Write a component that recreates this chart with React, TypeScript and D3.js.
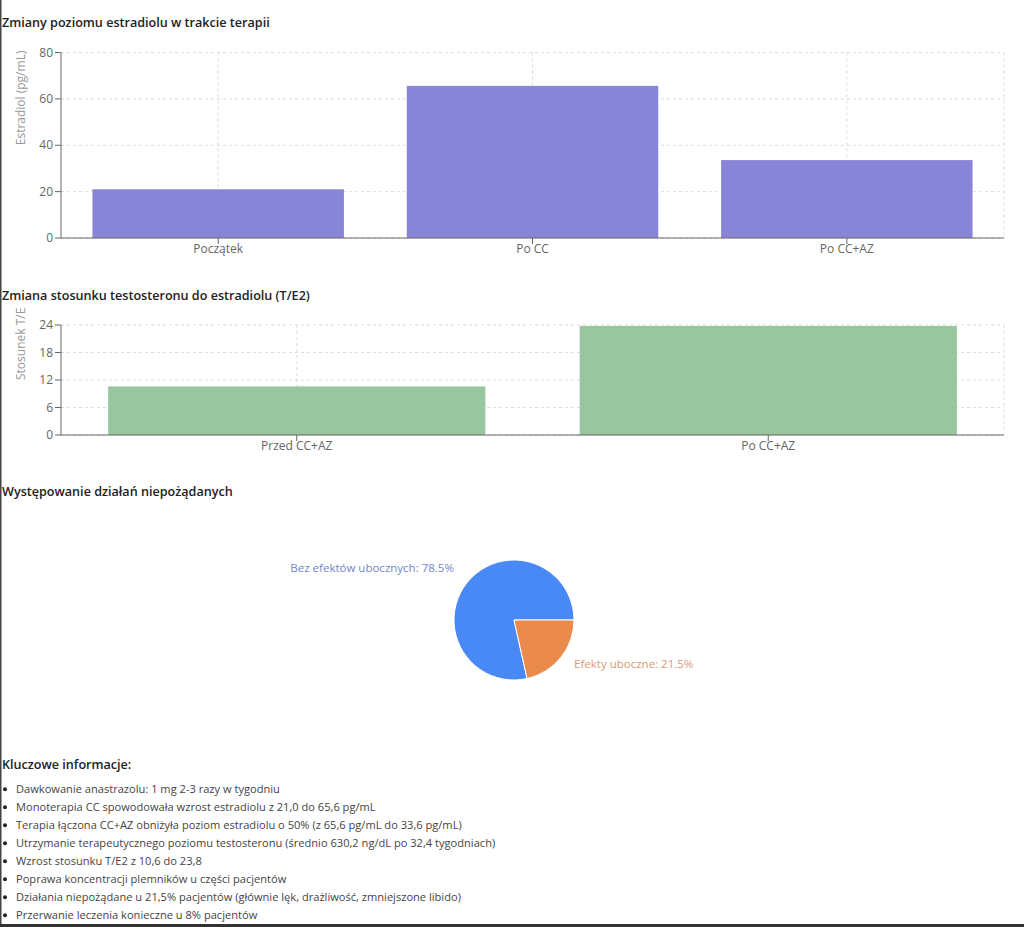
import React from "react";
import * as d3 from "d3";

const estradiolCategories = ["Początek", "Po CC", "Po CC+AZ"];
const estradiolValues = [21.0, 65.6, 33.6];
const estradiolTicks = [0, 20, 40, 60, 80];

const ratioCategories = ["Przed CC+AZ", "Po CC+AZ"];
const ratioValues = [10.6, 23.8];
const ratioTicks = [0, 6, 12, 18, 24];

const sideEffectLabels = ["Bez efektów ubocznych", "Efekty uboczne"];
const sideEffectValues = [78.5, 21.5];
const sideEffectColors = ["#4889f5", "#ea8a4b"];
const sideEffectLabelColors = ["#7086cc", "#dd9a72"];

const keyInfo = [
  "Dawkowanie anastrazolu: 1 mg 2-3 razy w tygodniu",
  "Monoterapia CC spowodowała wzrost estradiolu z 21,0 do 65,6 pg/mL",
  "Terapia łączona CC+AZ obniżyła poziom estradiolu o 50% (z 65,6 pg/mL do 33,6 pg/mL)",
  "Utrzymanie terapeutycznego poziomu testosteronu (średnio 630,2 ng/dL po 32,4 tygodniach)",
  "Wzrost stosunku T/E2 z 10,6 do 23,8",
  "Poprawa koncentracji plemników u części pacjentów",
  "Działania niepożądane u 21,5% pacjentów (głównie lęk, drażliwość, zmniejszone libido)",
  "Przerwanie leczenia konieczne u 8% pacjentów",
];

const FONT = "'Open Sans', 'Noto Sans', sans-serif";

type BarProps = {
  categories: string[];
  values: number[];
  ticks: number[];
  top: number;
  bottom: number;
  left: number;
  right: number;
  color: string;
  yLabel: string;
};

function BarChart({ categories, values, ticks, top, bottom, left, right, color, yLabel }: BarProps) {
  const x = d3.scaleBand<string>().domain(categories).range([left, right]).paddingInner(0.2).paddingOuter(0.1);
  const y = d3.scaleLinear().domain([0, ticks[ticks.length - 1]]).range([bottom, top]);
  const centers = categories.map((c) => (x(c) as number) + x.bandwidth() / 2);
  return (
    <g>
      {ticks.map((t) => (
        <line key={"hg" + t} x1={left} x2={right} y1={y(t)} y2={y(t)} stroke="#dcdcdc" strokeDasharray="3 3" />
      ))}
      {centers.map((cx, i) => (
        <line key={"vg" + i} x1={cx} x2={cx} y1={top} y2={bottom} stroke="#dcdcdc" strokeDasharray="3 3" />
      ))}
      <line x1={right} x2={right} y1={top} y2={bottom} stroke="#dcdcdc" strokeDasharray="3 3" />
      {categories.map((c, i) => (
        <rect key={c} x={x(c)} y={y(values[i])} width={x.bandwidth()} height={bottom - y(values[i])} fill={color} />
      ))}
      <line x1={left} x2={left} y1={top} y2={bottom} stroke="#666" />
      <line x1={left} x2={right} y1={bottom} y2={bottom} stroke="#666" />
      {ticks.map((t) => (
        <g key={"yt" + t}>
          <line x1={left - 6} x2={left} y1={y(t)} y2={y(t)} stroke="#666" />
          <text x={left - 8} y={y(t)} dy="0.35em" textAnchor="end" fontSize={12} fill="#666" fontFamily={FONT}>
            {t}
          </text>
        </g>
      ))}
      {categories.map((c, i) => (
        <g key={"xt" + c}>
          <line x1={centers[i]} x2={centers[i]} y1={bottom} y2={bottom + 6} stroke="#666" />
          <text x={centers[i]} y={bottom + 15} textAnchor="middle" fontSize={12} fill="#666" fontFamily={FONT}>
            {c}
          </text>
        </g>
      ))}
      <text
        transform={`translate(${left - 40},${(top + bottom) / 2}) rotate(-90)`}
        textAnchor="start"
        dy="0.35em"
        fontSize={12}
        fill="#999"
        fontFamily={FONT}
      >
        {yLabel}
      </text>
    </g>
  );
}

function Pie() {
  const cx = 514;
  const cy = 620;
  const r = 60;
  const pie = d3
    .pie<number>()
    .sort(null)
    .startAngle(Math.PI / 2)
    .endAngle(Math.PI / 2 - 2 * Math.PI);
  const arcs = pie(sideEffectValues);
  const arc = d3.arc<d3.PieArcDatum<number>>().innerRadius(0).outerRadius(r);
  return (
    <g transform={`translate(${cx},${cy})`}>
      {arcs.map((a, i) => (
        <path key={i} d={arc(a) as string} fill={sideEffectColors[i]} stroke="#fff" strokeWidth={1} />
      ))}
      {arcs.map((a, i) => {
        const mid = (a.startAngle + a.endAngle) / 2;
        const lr = 77;
        const lx = lr * Math.sin(mid);
        const ly = -lr * Math.cos(mid);
        return (
          <text
            key={"l" + i}
            x={lx}
            y={ly}
            textAnchor={lx > 0 ? "start" : "end"}
            fontSize={11.5}
            fill={sideEffectLabelColors[i]}
            fontFamily={FONT}
          >
            {`${sideEffectLabels[i]}: ${sideEffectValues[i]}%`}
          </text>
        );
      })}
    </g>
  );
}

export default function App() {
  return (
    <svg
      width={1024}
      height={927}
      style={{ position: "absolute", left: 0, top: 0, background: "#fff" }}
      fontFamily={FONT}
    >
      <rect x={0} y={0} width={1024} height={927} fill="#fff" />
      <text x={2} y={27} fontSize={12.6} fontWeight={600} fill="#222">
        Zmiany poziomu estradiolu w trakcie terapii
      </text>
      <BarChart
        categories={estradiolCategories}
        values={estradiolValues}
        ticks={estradiolTicks}
        top={52.5}
        bottom={238}
        left={61}
        right={1004}
        color="#8884d8"
        yLabel="Estradiol (pg/mL)"
      />
      <text x={2} y={300} fontSize={12.6} fontWeight={600} fill="#222">
        Zmiana stosunku testosteronu do estradiolu (T/E2)
      </text>
      <BarChart
        categories={ratioCategories}
        values={ratioValues}
        ticks={ratioTicks}
        top={325}
        bottom={435}
        left={61}
        right={1004}
        color="#98c69f"
        yLabel="Stosunek T/E"
      />
      <text x={2} y={496} fontSize={12.6} fontWeight={600} fill="#222">
        Występowanie działań niepożądanych
      </text>
      <Pie />
      <text x={2} y={769} fontSize={12.6} fontWeight={600} fill="#222">
        Kluczowe informacje:
      </text>
      {keyInfo.map((t, i) => (
        <g key={i}>
          <circle cx={5} cy={789.3 + 18 * i} r={2} fill="#222" />
          <text x={16} y={793.3 + 18 * i} fontSize={11.1} fill="#444">
            {t}
          </text>
        </g>
      ))}
      <rect x={0} y={0} width={1.5} height={927} fill="#444" />
      <rect x={0} y={924} width={1024} height={3} fill="#333" />
    </svg>
  );
}
